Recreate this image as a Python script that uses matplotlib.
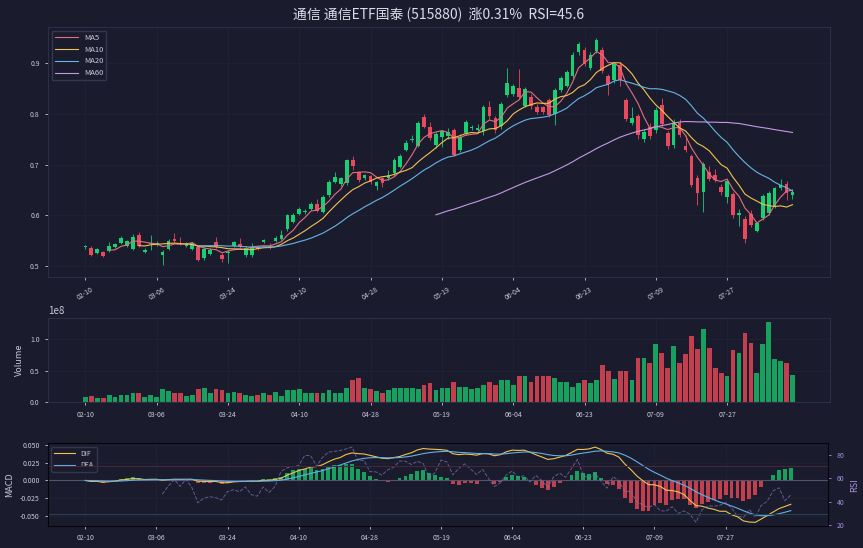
import numpy as np
import pandas as pd
import matplotlib
matplotlib.use("Agg")
import matplotlib.pyplot as plt
from matplotlib.ticker import MultipleLocator

plt.rcParams['font.family'] = ['Noto Sans CJK SC', 'DejaVu Sans']
plt.rcParams['axes.unicode_minus'] = False

# ---------------- data ----------------
opens = [0.538,0.537,0.527,0.529,0.531,0.539,0.545,0.541,0.535,0.562,
         0.529,0.544,0.543,0.523,0.535,0.554,0.546,0.541,0.535,0.539,
         0.517,0.525,0.547,0.523,0.527,0.541,0.544,0.523,0.522,0.539,
         0.548,0.541,0.550,0.554,0.574,0.588,0.603,0.606,0.613,0.622,
         0.607,0.640,0.666,0.661,0.663,0.708,0.685,0.673,0.677,0.657,
         0.673,0.673,0.683,0.696,0.729,0.749,0.737,0.794,0.774,0.738,
         0.754,0.756,0.768,0.728,0.762,0.771,0.768,0.765,0.813,0.791,
         0.776,0.836,0.839,0.851,0.815,0.833,0.813,0.812,0.826,0.800,
         0.846,0.855,0.873,0.920,0.925,0.890,0.922,0.925,0.873,0.865,
         0.896,0.826,0.781,0.795,0.750,0.774,0.768,0.817,0.762,0.739,
         0.781,0.737,0.717,0.674,0.647,0.685,0.680,0.655,0.637,0.642,
         0.600,0.593,0.603,0.570,0.596,0.605,0.619,0.653,0.661,0.640]
closes = [0.539,0.523,0.535,0.521,0.541,0.543,0.556,0.550,0.558,0.541,
          0.533,0.546,0.545,0.529,0.550,0.550,0.544,0.545,0.545,0.512,
          0.535,0.533,0.539,0.515,0.529,0.547,0.540,0.537,0.539,0.535,
          0.552,0.538,0.556,0.561,0.600,0.601,0.613,0.608,0.622,0.609,
          0.636,0.666,0.675,0.673,0.708,0.698,0.670,0.679,0.665,0.665,
          0.663,0.679,0.708,0.717,0.743,0.751,0.782,0.774,0.752,0.760,
          0.765,0.764,0.719,0.755,0.784,0.774,0.771,0.813,0.795,0.768,
          0.819,0.860,0.855,0.833,0.848,0.815,0.804,0.804,0.797,0.847,
          0.869,0.881,0.916,0.936,0.897,0.916,0.944,0.884,0.859,0.897,
          0.866,0.789,0.791,0.758,0.763,0.756,0.808,0.780,0.736,0.781,
          0.758,0.729,0.659,0.645,0.702,0.671,0.670,0.646,0.668,0.600,
          0.605,0.554,0.582,0.585,0.638,0.645,0.653,0.659,0.644,0.646]
highs = [0.542,0.541,0.537,0.531,0.548,0.546,0.560,0.552,0.563,0.568,
         0.536,0.562,0.549,0.533,0.553,0.566,0.558,0.547,0.548,0.541,
         0.538,0.536,0.558,0.527,0.532,0.550,0.556,0.540,0.545,0.541,
         0.554,0.546,0.560,0.572,0.603,0.604,0.616,0.613,0.627,0.632,
         0.640,0.670,0.685,0.676,0.710,0.717,0.688,0.682,0.680,0.668,
         0.676,0.690,0.712,0.720,0.748,0.757,0.786,0.800,0.783,0.764,
         0.768,0.772,0.772,0.760,0.788,0.778,0.780,0.816,0.825,0.796,
         0.822,0.889,0.858,0.887,0.852,0.838,0.818,0.815,0.830,0.850,
         0.873,0.885,0.920,0.940,0.930,0.920,0.948,0.930,0.877,0.900,
         0.902,0.830,0.812,0.800,0.770,0.782,0.812,0.830,0.766,0.790,
         0.790,0.757,0.720,0.680,0.705,0.698,0.692,0.662,0.672,0.646,
         0.612,0.598,0.610,0.588,0.642,0.648,0.656,0.672,0.668,0.652]
lows = [0.534,0.521,0.525,0.518,0.529,0.536,0.543,0.539,0.533,0.539,
        0.527,0.533,0.540,0.502,0.533,0.548,0.542,0.539,0.533,0.510,
        0.513,0.523,0.536,0.509,0.507,0.539,0.537,0.519,0.518,0.532,
        0.546,0.535,0.548,0.551,0.570,0.585,0.600,0.602,0.610,0.606,
        0.604,0.637,0.663,0.658,0.660,0.690,0.665,0.670,0.662,0.650,
        0.655,0.670,0.678,0.693,0.726,0.745,0.734,0.771,0.748,0.733,
        0.735,0.750,0.716,0.724,0.758,0.767,0.762,0.758,0.790,0.762,
        0.770,0.832,0.835,0.828,0.812,0.810,0.800,0.800,0.793,0.777,
        0.842,0.852,0.870,0.916,0.893,0.886,0.918,0.880,0.836,0.860,
        0.855,0.785,0.777,0.750,0.745,0.750,0.762,0.776,0.730,0.733,
        0.754,0.725,0.655,0.620,0.607,0.668,0.666,0.640,0.625,0.596,
        0.580,0.545,0.578,0.567,0.592,0.600,0.615,0.650,0.630,0.633]
volumes_e8 = [0.08,0.10,0.07,0.07,0.12,0.09,0.12,0.12,0.14,0.14,
              0.09,0.11,0.09,0.21,0.18,0.14,0.14,0.10,0.12,0.21,
              0.23,0.14,0.21,0.19,0.14,0.17,0.14,0.11,0.10,0.11,
              0.15,0.12,0.17,0.10,0.20,0.19,0.21,0.15,0.15,0.15,
              0.15,0.19,0.15,0.14,0.23,0.35,0.38,0.22,0.21,0.18,
              0.15,0.20,0.22,0.22,0.22,0.23,0.21,0.27,0.30,0.20,
              0.23,0.23,0.33,0.25,0.25,0.21,0.23,0.28,0.32,0.28,
              0.36,0.35,0.27,0.41,0.41,0.32,0.41,0.41,0.41,0.39,
              0.32,0.32,0.25,0.30,0.36,0.30,0.36,0.59,0.49,0.37,
              0.49,0.50,0.36,0.71,0.71,0.63,0.92,0.78,0.54,0.89,
              0.63,0.77,1.06,0.85,1.16,0.87,0.54,0.46,0.42,0.83,
              0.79,1.11,0.95,0.47,0.93,1.28,0.69,0.65,0.62,0.44]
tick_labels = ["02-10", "03-06", "03-24", "04-10", "04-28",
               "05-19", "06-04", "06-23", "07-09", "07-27"]
title_text = "通信 通信ETF国泰 (515880)  涨0.31%  RSI=45.6"
ma_periods = [5, 10, 20, 60]

# ---------------- styling ----------------
BG = '#1a1b2d'
TXT = '#c9cad8'
SPINE = '#2b2e46'
UP, DOWN = '#19cf73', '#e8495c'
VUP, VDOWN = '#18a05e', '#c2404d'
ma_colors = ['#e0707e', '#f2c24f', '#68b4e4', '#c49ae6']

df = pd.DataFrame({'open': opens, 'high': highs, 'low': lows,
                   'close': closes, 'vol': np.array(volumes_e8) * 1e8})
x = np.arange(len(df))
up = df['close'] >= df['open']

# indicators derived from the closes
for p in ma_periods:
    df[f'MA{p}'] = df['close'].rolling(p).mean()
ema12 = df['close'].ewm(span=12, adjust=False).mean()
ema26 = df['close'].ewm(span=26, adjust=False).mean()
dif = ema12 - ema26
dea = dif.ewm(span=9, adjust=False).mean()
hist = 2 * (dif - dea)
delta = df['close'].diff()
gain = delta.where(delta > 0, 0.0).rolling(14).mean()
loss = (-delta.where(delta < 0, 0.0)).rolling(14).mean()
rsi = 100 - 100 / (1 + gain / loss)

fig = plt.figure(figsize=(8.63, 5.48), dpi=100, facecolor=BG)
ax1 = fig.add_axes([0.0556, 0.495, 0.906, 0.456])
ax2 = fig.add_axes([0.0556, 0.266, 0.906, 0.154])
ax3 = fig.add_axes([0.0556, 0.040, 0.904, 0.151])

for ax in (ax1, ax2, ax3):
    ax.set_facecolor(BG)
    for s in ax.spines.values():
        s.set_color(SPINE)
        s.set_linewidth(0.8)
    ax.tick_params(colors=TXT, labelsize=5, length=2.5, width=0.6)
    ax.set_xticks(x[::12])
    ax.set_xticklabels(tick_labels)
    ax.grid(True, color='#252840', lw=0.5, alpha=0.6)
    ax.set_axisbelow(True)

# ---- price panel ----
body_lo = np.minimum(df['open'], df['close'])
body_h = np.maximum(np.abs(df['close'] - df['open']), 0.0015)
cols = np.where(up, UP, DOWN)
ax1.vlines(x, df['low'], df['high'], colors=cols, lw=0.6)
ax1.bar(x, body_h, bottom=body_lo, width=0.62, color=cols, lw=0)
for p, c in zip(ma_periods, ma_colors):
    ax1.plot(x, df[f'MA{p}'], color=c, lw=0.8, label=f'MA{p}')
ax1.set_title(title_text, color='#dcdce8', fontsize=10, pad=6)
leg = ax1.legend(loc='upper left', fontsize=5.5, facecolor=BG, edgecolor='#34374f',
                 framealpha=1, handlelength=3)
for t in leg.get_texts():
    t.set_color(TXT)
for lbl in ax1.get_xticklabels():
    lbl.set_rotation(32)
    lbl.set_ha('center')

# ---- volume panel ----
vcols = np.where(up, VUP, VDOWN)
ax2.bar(x, df['vol'], width=0.8, color=vcols, lw=0)
ax2.yaxis.set_major_locator(MultipleLocator(0.5e8))
ax2.set_ylabel('Volume', color=TXT, fontsize=6.5)
ax2.yaxis.get_offset_text().set_color(TXT)
ax2.yaxis.get_offset_text().set_fontsize(7)
ax2.set_xlim(ax1.get_xlim())

# ---- MACD + RSI panel ----
hcols = np.where(hist >= 0, VUP, VDOWN)
ax3.bar(x, hist, width=0.65, color=hcols, lw=0)
ax3.axhline(0, color='#50546e', lw=0.8)
ax3.plot(x, dif, color='#f2c24f', lw=0.8, label='DIF')
ax3.plot(x, dea, color='#62b0e6', lw=0.8, label='DEA')
ax3.yaxis.set_major_locator(MultipleLocator(0.025))
ax3.yaxis.set_major_formatter(matplotlib.ticker.FormatStrFormatter('%.3f'))
ax3.set_ylabel('MACD', color=TXT, fontsize=6.5)
leg3 = ax3.legend(loc='upper left', fontsize=5, facecolor=BG, edgecolor='#34374f',
                  framealpha=1, handlelength=3)
for t in leg3.get_texts():
    t.set_color(TXT)
ax3.set_xlim(ax1.get_xlim())

ax3r = ax3.twinx()
ax3r.set_facecolor('none')
ax3r.plot(x, rsi, ls='--', color='#8476b8', lw=0.7, alpha=0.7)
ax3r.axhline(70, color='#47283a', lw=0.8)
ax3r.axhline(30, color='#25444e', lw=0.8)
ax3r.set_yticks([20, 40, 60, 80])
ax3r.tick_params(colors=TXT, labelsize=5, length=2.5, width=0.6)
ax3r.tick_params(axis='y', colors='#a88ee0')
ax3r.set_ylabel('RSI', color='#a88ee0', fontsize=6.5)
for s in ax3r.spines.values():
    s.set_color('#05050a')
ax3r.set_xlim(ax1.get_xlim())

fig.savefig('out.png', dpi=100, facecolor=BG)
